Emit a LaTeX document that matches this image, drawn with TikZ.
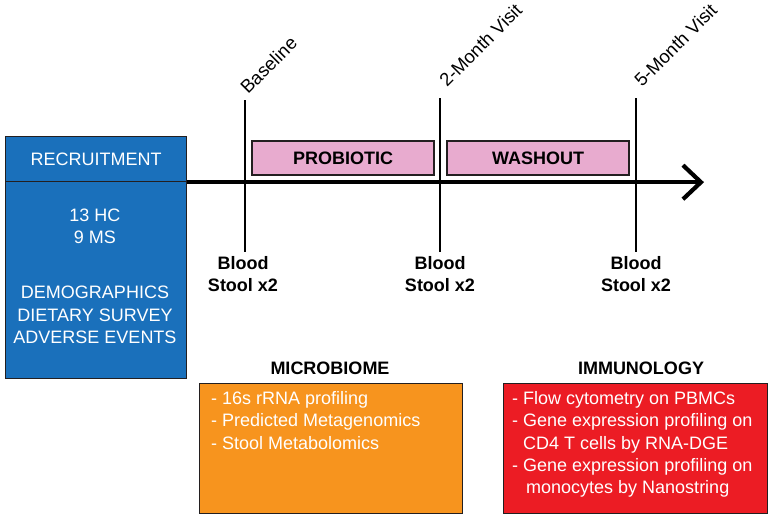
\documentclass[tikz,border=0pt]{standalone}
\usepackage{fontspec}
\setmainfont{Liberation Sans}
\usetikzlibrary{arrows.meta}
\definecolor{recblue}{HTML}{1A70BB}
\definecolor{microorange}{HTML}{F7941E}
\definecolor{immred}{HTML}{EC1C24}
\definecolor{phasepink}{HTML}{E8ABCF}
\definecolor{edgegray}{HTML}{231F20}
\tikzset{
  txt/.style={font=\fontsize{18}{22.2}\selectfont},
  boldtxt/.style={font=\fontsize{18}{22.2}\selectfont\bfseries},
  bluebox/.style={draw=edgegray, line width=1.2pt, fill=recblue, text=white, inner sep=0pt, minimum width=181pt},
  phasebox/.style={draw=edgegray, line width=1.2pt, fill=phasepink, minimum width=182pt, minimum height=34pt, inner sep=0pt, boldtxt},
  resbox/.style={draw=edgegray, line width=1.2pt, minimum height=130pt, inner sep=0pt},
  visitline/.style={line width=2.4pt},
  timeline/.style={line width=4.2pt, -{Straight Barb[length=18pt,width=34pt,line width=4.2pt]}},
  visitlabel/.style={font=\fontsize{18.5}{22}\selectfont, rotate=45, anchor=base west, inner sep=0pt},
  sample/.style={boldtxt, align=center, inner sep=0pt},
  listtxt/.style={txt, text=white, align=left, anchor=north west, inner sep=0pt},
}
\begin{document}
\begin{tikzpicture}[x=1pt,y=-1pt]
\useasboundingbox (0,0) rectangle (771,519);
% recruitment box
\node[bluebox, minimum height=45pt, anchor=north west, txt] (rechead) at (5,136) {RECRUITMENT};
\node[bluebox, minimum height=197pt, anchor=north west] (recbody) at (5,181) {};
\node[txt, text=white, align=center] (counts) at (95,226) {13 HC\\9 MS};
\node[txt, text=white, align=center] (surveys) at (95,315) {DEMOGRAPHICS\\DIETARY SURVEY\\ADVERSE EVENTS};
% timeline
\coordinate (tlend) at (704,181);
\draw[timeline] (rechead.south east) -- (rechead.south east -| tlend);
% phase boxes
\node[phasebox] (probiotic) at (343,158) {PROBIOTIC};
\node[phasebox] (washout) at (538,158) {WASHOUT};
% visit lines
\coordinate (v1t) at (245,100); \coordinate (v1b) at (245,252);
\coordinate (v2t) at (440,98); \coordinate (v2b) at (440,252);
\coordinate (v3t) at (636,98); \coordinate (v3b) at (636,252);
\draw[visitline] (v1t) -- (v1b);
\draw[visitline] (v2t) -- (v2b);
\draw[visitline] (v3t) -- (v3b);
% visit labels
\node[visitlabel] (lab1) at (248,95) {Baseline};
\node[visitlabel] (lab2) at (447,88) {2-Month Visit};
\node[visitlabel] (lab3) at (642,88) {5-Month Visit};
% samples
\node[sample] (s1) at (243,274) {Blood\\Stool x2};
\node[sample] (s2) at (440,274) {Blood\\Stool x2};
\node[sample] (s3) at (636,274) {Blood\\Stool x2};
% result boxes
\node[boldtxt] (microhead) at (330,368) {MICROBIOME};
\node[resbox, fill=microorange, minimum width=263pt, anchor=north west] (microbox) at (199,383) {};
\node[listtxt] (microlist) at (211,391.5) {- 16s rRNA profiling\\- Predicted Metagenomics\\- Stool Metabolomics};
\node[boldtxt] (immhead) at (641,368) {IMMUNOLOGY};
\node[resbox, fill=immred, minimum width=264pt, anchor=north west] (immbox) at (503,383) {};
\node[listtxt] (immlist) at (512,391.5) {- Flow cytometry on PBMCs\\- Gene expression profiling on\\\hphantom{- }CD4 T cells by RNA-DGE\\- Gene expression profiling on\\\hphantom{- \,}monocytes by Nanostring};
\end{tikzpicture}
\end{document}
